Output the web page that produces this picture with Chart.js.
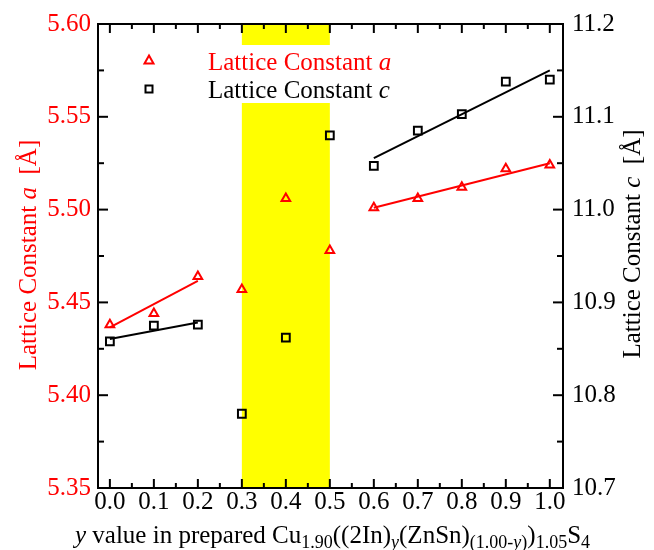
<!DOCTYPE html>
<html>
<head>
<meta charset="utf-8">
<script src="https://cdn.jsdelivr.net/npm/chart.js@4"></script>
<style>
  html, body { margin: 0; padding: 0; background: #fff; }
  #wrap { width: 654px; height: 550px; }
</style>
</head>
<body>
<div id="wrap"><canvas id="myChart" width="654" height="550"></canvas></div>
<script>
// y value in prepared compound
const yValues = [0.0, 0.1, 0.2, 0.3, 0.4, 0.5, 0.6, 0.7, 0.8, 0.9, 1.0];
// lattice constants
const latticeA = [5.438, 5.444, 5.464, 5.457, 5.506, 5.478, 5.501, 5.506, 5.512, 5.522, 5.524];
const latticeC = [10.858, 10.875, 10.876, 10.780, 10.862, 11.080, 11.047, 11.085, 11.103, 11.138, 11.140];

// fitted lines (end points)
const fitLowX = [0.0, 0.2];
const fitHighX = [0.6, 1.0];
const fitALow = [5.4365, 5.4616];
const fitAHigh = [5.501, 5.525];
const fitCLow = [10.8606, 10.8784];
const fitCHigh = [11.0555, 11.150];

// shaded region
const bandFrom = 0.3;
const bandTo = 0.5;

// tick labels
const xTicks = [0.0, 0.1, 0.2, 0.3, 0.4, 0.5, 0.6, 0.7, 0.8, 0.9, 1.0];
const aTicks = [5.35, 5.40, 5.45, 5.50, 5.55, 5.60];
const cTicks = [10.7, 10.8, 10.9, 11.0, 11.1, 11.2];

const FONT = "'Liberation Serif', 'Times New Roman', serif";
const RED = '#ff0000';
Chart.defaults.font.family = FONT;

const pts = (xs, ys) => xs.map((x, i) => ({ x, y: ys[i] }));

// text pieces (italic / subscript) drawn one after another on a baseline
function setFont(ctx, p) {
  ctx.font = (p.i ? 'italic ' : '') + (p.sub ? 18 : 25) + 'px ' + FONT;
}
function richWidth(ctx, parts) {
  let w = 0;
  parts.forEach(p => { setFont(ctx, p); w += ctx.measureText(p.t).width; });
  return w;
}
function drawRich(ctx, parts, x, y) {
  parts.forEach(p => {
    setFont(ctx, p);
    ctx.fillText(p.t, x, y + (p.sub ? 5 : 0));
    x += ctx.measureText(p.t).width;
  });
}

const decor = {
  id: 'decor',
  beforeDatasetsDraw(chart) {
    const { ctx, chartArea: a, scales: { x } } = chart;
    const x0 = x.getPixelForValue(bandFrom);
    const x1 = x.getPixelForValue(bandTo);
    ctx.save();
    ctx.fillStyle = '#ffff00';
    ctx.fillRect(x0, a.top, x1 - x0, a.bottom - a.top);
    // white legend box over the band
    ctx.fillStyle = '#ffffff';
    ctx.fillRect(130, 45, 270, 58);
    ctx.restore();
  },
  afterDatasetsDraw(chart) {
    const { ctx, chartArea: a, scales: { x, y, y2 } } = chart;
    ctx.save();
    ctx.strokeStyle = '#000';
    ctx.lineWidth = 2;
    ctx.strokeRect(a.left, a.top, a.right - a.left, a.bottom - a.top);

    const line = (x1, y1, x2, y2_) => {
      ctx.beginPath(); ctx.moveTo(x1, y1); ctx.lineTo(x2, y2_); ctx.stroke();
    };
    // x ticks, inward on bottom and top
    xTicks.forEach((v, i) => {
      const px = x.getPixelForValue(v);
      line(px, a.bottom, px, a.bottom - 9);
      line(px, a.top, px, a.top + 9);
      if (i < xTicks.length - 1) {
        const m = x.getPixelForValue((v + xTicks[i + 1]) / 2);
        line(m, a.bottom, m, a.bottom - 5);
        line(m, a.top, m, a.top + 5);
      }
    });
    // left ticks
    aTicks.forEach((v, i) => {
      const py = y.getPixelForValue(v);
      line(a.left, py, a.left + 10, py);
      if (i < aTicks.length - 1) {
        const m = y.getPixelForValue((v + aTicks[i + 1]) / 2);
        line(a.left, m, a.left + 6, m);
      }
    });
    // right ticks
    cTicks.forEach((v, i) => {
      const py = y2.getPixelForValue(v);
      line(a.right, py, a.right - 10, py);
      if (i < cTicks.length - 1) {
        const m = y2.getPixelForValue((v + cTicks[i + 1]) / 2);
        line(a.right, m, a.right - 6, m);
      }
    });

    // legend
    ctx.lineWidth = 2;
    ctx.strokeStyle = RED;
    ctx.beginPath();
    ctx.moveTo(149, 55.5); ctx.lineTo(153.5, 63.5); ctx.lineTo(144.5, 63.5); ctx.closePath();
    ctx.stroke();
    ctx.strokeStyle = '#000';
    ctx.strokeRect(145.5, 85.5, 7, 7);
    ctx.textBaseline = 'alphabetic';
    ctx.textAlign = 'left';
    ctx.fillStyle = RED;
    drawRich(ctx, [{ t: 'Lattice Constant ' }, { t: 'a', i: true }], 208, 70);
    ctx.fillStyle = '#000';
    drawRich(ctx, [{ t: 'Lattice Constant ' }, { t: 'c', i: true }], 208, 98);

    // left title
    const leftParts = [{ t: 'Lattice Constant ' }, { t: 'a', i: true }, { t: '  [Å]' }];
    ctx.save();
    ctx.translate(36, 255);
    ctx.rotate(-Math.PI / 2);
    ctx.fillStyle = RED;
    drawRich(ctx, leftParts, -richWidth(ctx, leftParts) / 2, 0);
    ctx.restore();

    // right title
    const rightParts = [{ t: 'Lattice Constant ' }, { t: 'c', i: true }, { t: '  [Å]' }];
    ctx.save();
    ctx.translate(640, 244);
    ctx.rotate(-Math.PI / 2);
    ctx.fillStyle = '#000';
    drawRich(ctx, rightParts, -richWidth(ctx, rightParts) / 2, 0);
    ctx.restore();

    // bottom title
    const bottomParts = [
      { t: 'y', i: true }, { t: ' value in prepared Cu' }, { t: '1.90', sub: true },
      { t: '((2In)' }, { t: 'y', i: true, sub: true }, { t: '(ZnSn)' },
      { t: '(1.00-', sub: true }, { t: 'y', i: true, sub: true }, { t: ')', sub: true },
      { t: ')' }, { t: '1.05', sub: true }, { t: 'S' }, { t: '4', sub: true }
    ];
    ctx.fillStyle = '#000';
    drawRich(ctx, bottomParts, 332.5 - richWidth(ctx, bottomParts) / 2, 543);
    ctx.restore();
  }
};

const tickFont = { family: FONT, size: 25 };
const noGrid = { display: false, drawTicks: false };

const ctx = document.getElementById('myChart').getContext('2d');
const myChart = new Chart(ctx, {
  type: 'scatter',
  data: {
    datasets: [
      {
        label: 'Lattice Constant a',
        data: pts(yValues, latticeA),
        yAxisID: 'y',
        pointStyle: 'triangle',
        pointRadius: 5,
        borderColor: RED,
        backgroundColor: 'rgba(0,0,0,0)',
        borderWidth: 2
      },
      {
        label: 'Lattice Constant c',
        data: pts(yValues, latticeC),
        yAxisID: 'y2',
        pointStyle: 'rect',
        pointRadius: 5.5,
        borderColor: '#000',
        backgroundColor: 'rgba(0,0,0,0)',
        borderWidth: 2
      },
      { data: pts(fitLowX, fitALow), yAxisID: 'y', showLine: true, pointRadius: 0, borderColor: RED, borderWidth: 2 },
      { data: pts(fitHighX, fitAHigh), yAxisID: 'y', showLine: true, pointRadius: 0, borderColor: RED, borderWidth: 2 },
      { data: pts(fitLowX, fitCLow), yAxisID: 'y2', showLine: true, pointRadius: 0, borderColor: '#000', borderWidth: 2 },
      { data: pts(fitHighX, fitCHigh), yAxisID: 'y2', showLine: true, pointRadius: 0, borderColor: '#000', borderWidth: 2 }
    ]
  },
  options: {
    responsive: false,
    animation: false,
    layout: { padding: { top: 22, left: 0, right: 0, bottom: 0 } },
    plugins: { legend: { display: false }, tooltip: { enabled: false } },
    scales: {
      x: {
        type: 'linear',
        position: 'bottom',
        min: -0.027,
        max: 1.03,
        afterBuildTicks: s => { s.ticks = xTicks.map(value => ({ value })); },
        afterFit: s => { s.height = 62; },
        grid: noGrid,
        border: { display: false },
        ticks: {
          color: '#000',
          font: tickFont,
          padding: -1,
          maxRotation: 0,
          autoSkip: false,
          callback: v => v.toFixed(1)
        }
      },
      y: {
        position: 'left',
        min: 5.35,
        max: 5.60,
        afterBuildTicks: s => { s.ticks = aTicks.map(value => ({ value })); },
        afterFit: s => { s.width = 98; },
        grid: noGrid,
        border: { display: false },
        ticks: {
          color: RED,
          font: tickFont,
          padding: 7,
          callback: v => v.toFixed(2)
        }
      },
      y2: {
        position: 'right',
        min: 10.7,
        max: 11.2,
        afterBuildTicks: s => { s.ticks = cTicks.map(value => ({ value })); },
        afterFit: s => { s.width = 91; },
        grid: noGrid,
        border: { display: false },
        ticks: {
          color: '#000',
          font: tickFont,
          padding: 9,
          callback: v => v.toFixed(1)
        }
      }
    }
  },
  plugins: [decor]
});
</script>
</body>
</html>
